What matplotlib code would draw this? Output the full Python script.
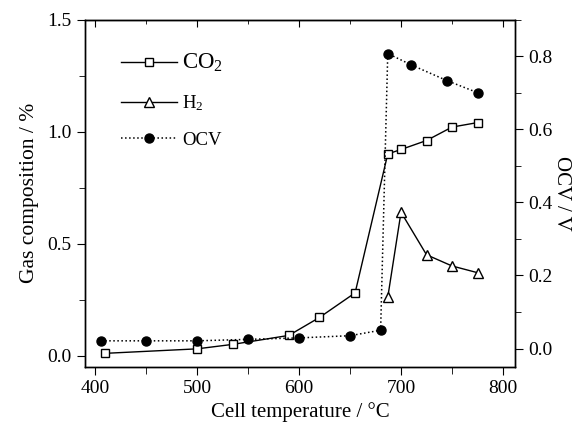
import matplotlib
matplotlib.use("Agg")
import matplotlib.pyplot as plt
from matplotlib.ticker import MultipleLocator, FormatStrFormatter

plt.rcParams['font.family'] = ['Liberation Serif', 'DejaVu Serif']
plt.rcParams['mathtext.fontset'] = 'custom'
plt.rcParams['mathtext.rm'] = 'Liberation Serif'
plt.rcParams['mathtext.it'] = 'Liberation Serif:italic'

# data
co2_temp = [410, 500, 535, 590, 620, 655, 687, 700, 725, 750, 775]
co2_pct = [0.01, 0.03, 0.05, 0.09, 0.17, 0.28, 0.90, 0.92, 0.96, 1.02, 1.04]

h2_temp = [687, 700, 725, 750, 775]
h2_pct = [0.26, 0.64, 0.45, 0.40, 0.37]

ocv_temp = [406, 450, 500, 550, 600, 650, 680, 687, 710, 745, 775]
ocv_volt = [0.021, 0.021, 0.021, 0.025, 0.029, 0.035, 0.05, 0.807, 0.776, 0.733, 0.70]

fig = plt.figure(figsize=(5.77, 4.25), dpi=100)
ax = fig.add_axes([0.147, 0.137, 0.746, 0.817])
ax2 = ax.twinx()

l1, = ax.plot(co2_temp, co2_pct, '-', color='black', lw=1, marker='s', ms=6,
              mfc='white', mec='black', mew=1, zorder=3)
l2, = ax.plot(h2_temp, h2_pct, '-', color='black', lw=1, marker='^', ms=7,
              mfc='white', mec='black', mew=1, zorder=3)
l3, = ax2.plot(ocv_temp, ocv_volt, ':', color='black', lw=1.1, marker='o', ms=6.5,
               mfc='black', mec='black')

ax.set_xlim(390, 812)
ax.set_ylim(-0.05, 1.5)
ax2.set_ylim(-0.05, 0.90)

ax.xaxis.set_major_locator(MultipleLocator(100))
ax.xaxis.set_minor_locator(MultipleLocator(50))
ax.yaxis.set_major_locator(MultipleLocator(0.5))
ax.yaxis.set_minor_locator(MultipleLocator(0.25))
ax2.yaxis.set_major_locator(MultipleLocator(0.2))
ax2.yaxis.set_minor_locator(MultipleLocator(0.1))
ax.yaxis.set_major_formatter(FormatStrFormatter('%.1f'))
ax2.yaxis.set_major_formatter(FormatStrFormatter('%.1f'))

ax.tick_params(axis='x', which='both', direction='out', top=False, labelsize=14)
ax.tick_params(axis='x', which='major', length=6)
ax.tick_params(axis='x', which='minor', length=5)
ax.tick_params(axis='y', which='both', direction='out', labelsize=14)
ax.tick_params(axis='y', which='major', length=6)
ax.tick_params(axis='y', which='minor', length=4)
ax2.tick_params(axis='y', which='both', direction='out', labelsize=14)
ax2.tick_params(axis='y', which='major', length=6)
ax2.tick_params(axis='y', which='minor', length=4)

# inward ticks on the top edge
top = ax.secondary_xaxis('top')
top.xaxis.set_major_locator(MultipleLocator(100))
top.xaxis.set_minor_locator(MultipleLocator(50))
top.tick_params(which='both', direction='in', labeltop=False)
top.tick_params(which='major', length=5)
top.tick_params(which='minor', length=3)

for a in (ax, ax2):
    for s in a.spines.values():
        s.set_linewidth(1)

ax.set_xlabel('Cell temperature / \u00b0C', fontsize=15, labelpad=4)
ax.set_ylabel('Gas composition / %', fontsize=15.5, labelpad=6)
ax2.set_ylabel('OCV / V', fontsize=15, rotation=270, labelpad=13)

leg = ax.legend([l1, l2, l3], ['CO$_2$', 'H$_2$', 'OCV'], loc='upper left',
                bbox_to_anchor=(0.045, 0.955), frameon=False, handlelength=3.0,
                handletextpad=0.25, labelspacing=1.0, fontsize=13.5)
leg.get_texts()[0].set_fontsize(16.5)

fig.savefig('out.png', dpi=100)
